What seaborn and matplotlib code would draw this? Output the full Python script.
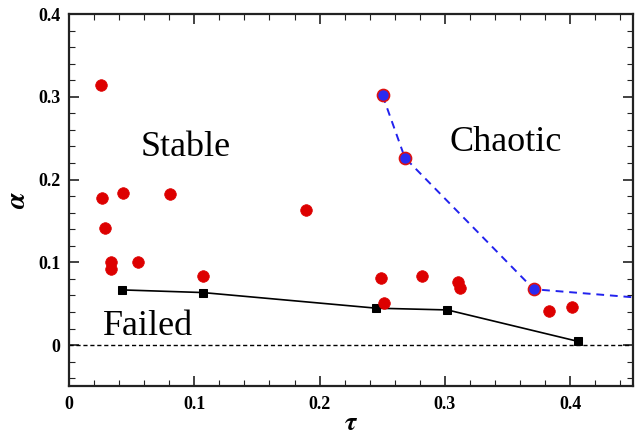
import matplotlib
matplotlib.use("Agg")
import matplotlib.pyplot as plt
import seaborn as sns
import pandas as pd
from matplotlib.ticker import MultipleLocator

# Data
stable_tau = [0.026, 0.0265, 0.043, 0.0806, 0.189, 0.029, 0.0335, 0.0335, 0.055, 0.107,
              0.249, 0.2517, 0.282, 0.3107, 0.312, 0.3833, 0.4017]
stable_alpha = [0.314, 0.178, 0.184, 0.183, 0.163, 0.142, 0.100, 0.092, 0.101, 0.083,
                0.081, 0.0506, 0.0835, 0.076, 0.0695, 0.0406, 0.046]

chaotic_tau = [0.2503, 0.268, 0.3709]
chaotic_alpha = [0.3016, 0.2265, 0.0675]
chaotic_line_tau = [0.2503, 0.268, 0.3709, 0.45]
chaotic_line_alpha = [0.3016, 0.2265, 0.0675, 0.0578]

failed_tau = [0.0423, 0.1067, 0.2453, 0.302, 0.4062]
failed_alpha = [0.0667, 0.0635, 0.0446, 0.0425, 0.0045]

zero_tau = [0.0, 0.45]
zero_alpha = [0.0, 0.0]

sns.set_theme(style="ticks")
plt.rcParams['font.family'] = ['Liberation Serif', 'DejaVu Serif']
plt.rcParams['mathtext.fontset'] = 'stix'
plt.rcParams['text.color'] = 'black'
plt.rcParams['axes.labelcolor'] = 'black'
plt.rcParams['xtick.color'] = 'black'
plt.rcParams['ytick.color'] = 'black'

fig = plt.figure(figsize=(6.38, 4.38), dpi=100)
ax = fig.add_axes([0.108, 0.1176, 0.884, 0.8504])

sns.lineplot(x=zero_tau, y=zero_alpha, ax=ax, color='black', linestyle=(0, (3, 2)),
             linewidth=1.0, sort=False)
sns.lineplot(x=failed_tau, y=failed_alpha, ax=ax, color='black', linewidth=1.2,
             sort=False, marker='s', markersize=5.5, markeredgecolor='black')
sns.lineplot(x=chaotic_line_tau, y=chaotic_line_alpha, ax=ax, color='#2222ee',
             linestyle=(0, (4, 3)), linewidth=1.4, sort=False)
sns.scatterplot(x=chaotic_tau, y=chaotic_alpha, ax=ax, color='#2a2af0', s=75,
                edgecolor='#dd1111', linewidth=1.2, zorder=5)
sns.scatterplot(x=stable_tau, y=stable_alpha, ax=ax, color='#dd0000', s=70,
                edgecolor='#dd0000', linewidth=0.5, zorder=5)

ax.set_xlim(0, 0.45)
ax.set_ylim(-0.05, 0.4)
ax.xaxis.set_minor_locator(MultipleLocator(0.02))
ax.yaxis.set_minor_locator(MultipleLocator(0.02))
ax.set_xticks([0, 0.1, 0.2, 0.3, 0.4])
ax.set_xticklabels(['0', '0.1', '0.2', '0.3', '0.4'])
ax.set_yticks([0, 0.1, 0.2, 0.3, 0.4])
ax.set_yticklabels(['0', '0.1', '0.2', '0.3', '0.4'])
ax.tick_params(which='both', direction='in', top=True, right=True, labelsize=13,
               width=1.2, color='#222222')
ax.tick_params(which='major', length=7)
ax.tick_params(which='minor', length=4, width=0.8)
ax.tick_params(axis='x', which='major', pad=7)
ax.tick_params(axis='y', which='major', pad=6)
for lab in ax.get_xticklabels() + ax.get_yticklabels():
    lab.set_fontweight('bold')
for sp in ax.spines.values():
    sp.set_linewidth(1.6)
    sp.set_color('#222222')

ax.set_xlabel(r'$\boldsymbol{\tau}$', fontsize=19, labelpad=0)
ax.set_ylabel(r'$\boldsymbol{\alpha}$', fontsize=20, labelpad=5)

ax.text(0.0934, 0.229, 'Stable', fontsize=26, ha='center', va='baseline')
ax.text(0.3484, 0.235, 'Chaotic', fontsize=26, ha='center', va='baseline')
ax.text(0.0269, 0.0124, 'Failed', fontsize=26, ha='left', va='baseline')

fig.savefig('out.png', dpi=100)
